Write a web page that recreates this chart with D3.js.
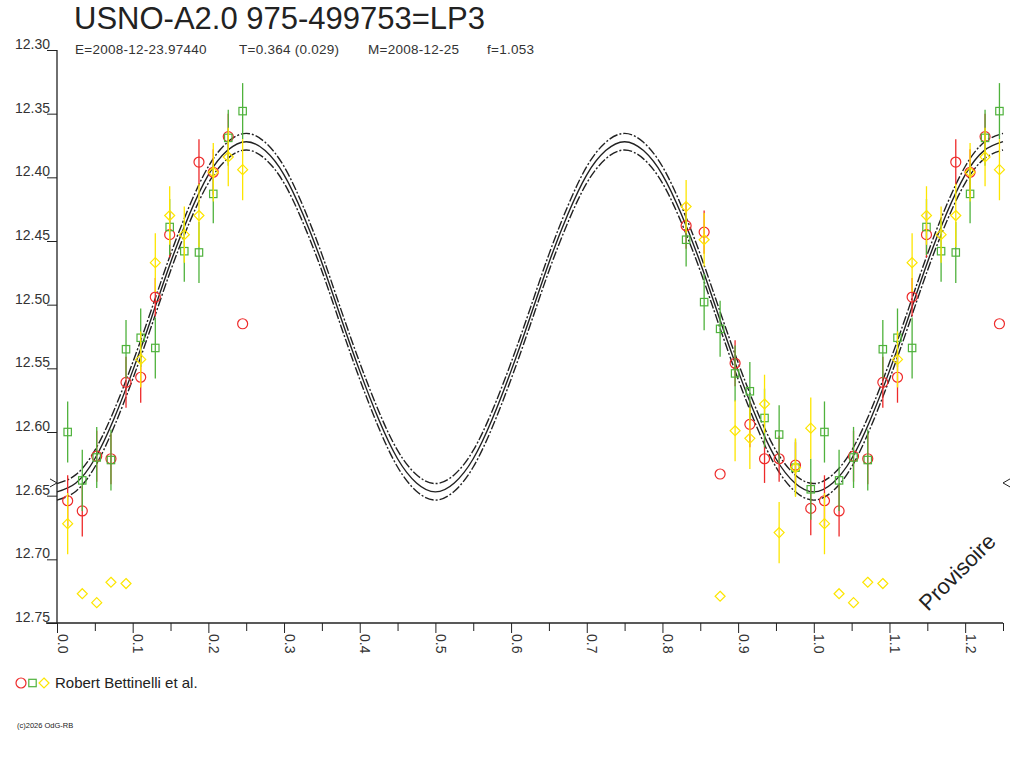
<!DOCTYPE html>
<html>
<head>
<meta charset="utf-8">
<script src="https://cdn.jsdelivr.net/npm/d3@7"></script>
<style>
body { margin: 0; background: #fff; }
svg { display: block; font-family: "Liberation Sans", Arial, sans-serif; }
</style>
</head>
<body>
<svg id="chart" width="1024" height="768"></svg>
<script>
'use strict';

// Observation phases (one column = one epoch, three measures each)
var obsPhase = [0.0141, 0.0334, 0.0525, 0.0713, 0.0912, 0.1106, 0.1299, 0.1489, 0.1682, 0.1876, 0.2065, 0.2263, 0.2453,
	0.8313, 0.8551, 0.8762, 0.8960, 0.9155, 0.9349, 0.9542, 0.9758, 0.9960];

var redMag = [12.654, 12.662, 12.619, 12.621, 12.561, 12.557, 12.494, 12.445, null, 12.388, 12.396, 12.368, 12.515,
	12.438, 12.443, 12.633, 12.546, 12.594, 12.621, 12.621, 12.626, 12.660];
var redErr = [0.020, 0.020, 0.020, 0.020, 0.020, 0.020, 0.015, 0.018, 0, 0.018, 0.018, 0.018, 0,
	0.018, 0.017, 0, 0.018, 0.018, 0.019, 0.018, 0.018, 0.021];

var greenMag = [12.600, 12.638, 12.620, 12.622, 12.535, 12.526, 12.534, 12.439, 12.458, 12.459, 12.413, 12.369, 12.348,
	12.449, 12.498, 12.519, 12.554, 12.568, 12.589, 12.602, 12.628, 12.645];
var greenErr = [0.024, 0.024, 0.024, 0.024, 0.023, 0.023, 0.024, 0.022, 0.024, 0.024, 0.023, 0.022, 0.022,
	0.021, 0.022, 0.022, 0.022, 0.023, 0.023, 0.023, 0.022, 0.024];

var yellowMag = [12.672, 12.727, 12.734, 12.718, 12.719, 12.543, 12.467, 12.430, 12.445, 12.430, 12.396, 12.384, 12.394,
	12.423, 12.449, 12.729, 12.599, 12.605, 12.578, 12.679, 12.628, 12.597];
var yellowErr = [0.024, 0, 0, 0, 0, 0.022, 0.023, 0.023, 0.022, 0.025, 0.023, 0.023, 0.024,
	0.021, 0.021, 0, 0.024, 0.024, 0.023, 0.024, 0.023, 0.024];

// Fitted light curve, every 0.025 in phase
var curvePhase = [0, 0.025, 0.05, 0.075, 0.1, 0.125, 0.15, 0.175, 0.2, 0.225, 0.25, 0.275, 0.3, 0.325, 0.35, 0.375,
	0.4, 0.425, 0.45, 0.475, 0.5, 0.525, 0.55, 0.575, 0.6, 0.625, 0.65, 0.675, 0.7, 0.725, 0.75, 0.775, 0.8, 0.825,
	0.85, 0.875, 0.9, 0.925, 0.95, 0.975, 1.0, 1.025, 1.05, 1.075, 1.1, 1.125, 1.15, 1.175, 1.2, 1.225, 1.25];
var curveMag = [12.647, 12.640, 12.621, 12.590, 12.552, 12.510, 12.467, 12.429, 12.398, 12.379, 12.372, 12.379, 12.398,
	12.429, 12.467, 12.510, 12.552, 12.590, 12.621, 12.640, 12.647, 12.640, 12.621, 12.590, 12.552, 12.510, 12.467,
	12.429, 12.398, 12.379, 12.372, 12.379, 12.398, 12.429, 12.467, 12.510, 12.552, 12.590, 12.621, 12.640, 12.647,
	12.640, 12.621, 12.590, 12.552, 12.510, 12.467, 12.429, 12.398, 12.379, 12.372];
var curveBand = 0.0065;

var yTicks = [12.30, 12.35, 12.40, 12.45, 12.50, 12.55, 12.60, 12.65, 12.70, 12.75];
var xTicks = [0, 0.1, 0.2, 0.3, 0.4, 0.5, 0.6, 0.7, 0.8, 0.9, 1.0, 1.1, 1.2];
var xMinorTicks = [0.05, 0.15, 0.25, 0.35, 0.45, 0.55, 0.65, 0.75, 0.85, 0.95, 1.05, 1.15, 1.25];
var meanMag = 12.64;

var titleText = 'USNO-A2.0 975-499753=LP3';
var subTexts = ['E=2008-12-23.97440', 'T=0.364 (0.029)', 'M=2008-12-25', 'f=1.053'];
var legendText = 'Robert Bettinelli et al.';

var RED = '#ee2a2a', GREEN = '#4fb23c', YELLOW = '#fde600', INK = '#222';

var svg = d3.select('#chart');
var x_scale = d3.scaleLinear().domain([0, 1.25]).range([57, 1003]);
var y_scale = d3.scaleLinear().domain([12.30, 12.75]).range([50, 623]);

// Title and parameters
svg.append('text').attr('x', 74).attr('y', 29)
	.attr('font-size', 31).attr('fill', INK).text(titleText);
var subX = [75, 239, 368, 487];
svg.selectAll('text.sub').data(subTexts).enter().append('text')
	.attr('class', 'sub')
	.attr('x', function(d, i) { return subX[i]; })
	.attr('y', 54)
	.attr('font-size', 13.5).attr('letter-spacing', 0.25).attr('fill', '#333')
	.text(function(d) { return d; });

// Axes
var yAxis = d3.axisLeft(y_scale).tickValues(yTicks).tickSize(10).tickFormat(d3.format('.2f'));
var gy = svg.append('g').attr('transform', 'translate(57,0)').call(yAxis);
gy.select('.domain').remove();
gy.selectAll('line').attr('stroke', INK);
gy.selectAll('text').attr('x', -7).attr('dy', -1.5)
	.attr('font-size', 14).attr('fill', '#333').attr('font-family', null);

var xAxis = d3.axisBottom(x_scale).tickValues(xTicks).tickSize(10).tickFormat(d3.format('.1f'));
var gx = svg.append('g').attr('transform', 'translate(0,623)').call(xAxis);
gx.select('.domain').remove();
gx.selectAll('line').attr('stroke', INK);
gx.selectAll('text')
	.attr('transform', 'rotate(90)')
	.attr('x', 11).attr('y', 0).attr('dy', 0)
	.attr('text-anchor', 'start')
	.attr('font-size', 14).attr('fill', '#333').attr('font-family', null);

var gxm = svg.append('g').attr('transform', 'translate(0,623)')
	.call(d3.axisBottom(x_scale).tickValues(xMinorTicks).tickSize(8).tickFormat(''));
gxm.select('.domain').remove();
gxm.selectAll('line').attr('stroke', INK);

svg.append('line').attr('x1', x_scale(0)).attr('x2', x_scale(0))
	.attr('y1', y_scale(12.30)).attr('y2', y_scale(12.75)).attr('stroke', INK).attr('stroke-width', 1.3);
svg.append('line').attr('x1', x_scale(0) - 11).attr('x2', x_scale(1.25))
	.attr('y1', y_scale(12.75)).attr('y2', y_scale(12.75)).attr('stroke', INK).attr('stroke-width', 1.3);

// Mean level markers on both sides
var my = y_scale(meanMag);
svg.append('path').attr('d', 'M' + (x_scale(0) - 7) + ',' + (my - 4) + 'L' + x_scale(0) + ',' + my + 'L' + (x_scale(0) - 7) + ',' + (my + 4))
	.attr('fill', 'none').attr('stroke', INK);
svg.append('path').attr('d', 'M' + (x_scale(1.25) + 7) + ',' + (my - 4) + 'L' + x_scale(1.25) + ',' + my + 'L' + (x_scale(1.25) + 7) + ',' + (my + 4))
	.attr('fill', 'none').attr('stroke', INK);

// Light curve with its band
var curve_data = curvePhase.map(function(p, i) { return { p: p, m: curveMag[i] }; });
function curveLine(offset) {
	return d3.line()
		.x(function(d) { return x_scale(d.p); })
		.y(function(d) { return y_scale(d.m + offset); })
		.curve(d3.curveNatural);
}
[-curveBand, curveBand].forEach(function(off) {
	svg.append('path').datum(curve_data).attr('d', curveLine(off))
		.attr('fill', 'none').attr('stroke', INK).attr('stroke-width', 1.4)
		.attr('stroke-dasharray', '9,2,2,2');
});
svg.append('path').datum(curve_data).attr('d', curveLine(0))
	.attr('fill', 'none').attr('stroke', INK).attr('stroke-width', 1.4);

// Observations, folded: phases below 0.25 are drawn again one cycle later
function buildPoints(mags, errs) {
	var pts = [];
	obsPhase.forEach(function(p, i) {
		if (mags[i] === null) { return; }
		pts.push({ p: p, m: mags[i], e: errs[i] });
		if (p + 1 <= 1.25) { pts.push({ p: p + 1, m: mags[i], e: errs[i] }); }
	});
	return pts;
}

var series = [
	{ pts: buildPoints(redMag, redErr), color: RED, shape: 'circle' },
	{ pts: buildPoints(greenMag, greenErr), color: GREEN, shape: 'square' },
	{ pts: buildPoints(yellowMag, yellowErr), color: YELLOW, shape: 'diamond' }
];

function drawMarker(g, shape, color, cx, cy) {
	if (shape === 'circle') {
		g.append('circle').attr('cx', cx).attr('cy', cy).attr('r', 5)
			.attr('fill', 'none').attr('stroke', color).attr('stroke-width', 1.2);
	} else if (shape === 'square') {
		g.append('rect').attr('x', cx - 3.7).attr('y', cy - 3.7).attr('width', 7.4).attr('height', 7.4)
			.attr('fill', 'none').attr('stroke', color).attr('stroke-width', 1.2);
	} else {
		g.append('path').attr('d', 'M' + cx + ',' + (cy - 5) + 'L' + (cx + 5) + ',' + cy + 'L' + cx + ',' + (cy + 5) + 'L' + (cx - 5) + ',' + cy + 'Z')
			.attr('fill', 'none').attr('stroke', color).attr('stroke-width', 1.2);
	}
}

series.forEach(function(s) {
	var g = svg.append('g');
	g.selectAll('line.ebar')
		.data(s.pts.filter(function(d) { return d.e > 0; }))
		.enter().append('line')
		.attr('class', 'ebar')
		.attr('x1', function(d) { return x_scale(d.p); })
		.attr('x2', function(d) { return x_scale(d.p); })
		.attr('y1', function(d) { return y_scale(d.m - d.e); })
		.attr('y2', function(d) { return y_scale(d.m + d.e); })
		.attr('stroke', s.color).attr('stroke-width', 1.3);
	s.pts.forEach(function(d) {
		drawMarker(g, s.shape, s.color, x_scale(d.p), y_scale(d.m));
	});
});

// Watermark
svg.append('text').attr('transform', 'translate(928,612) rotate(-45)')
	.attr('font-size', 22).attr('fill', INK).text('Provisoire');

// Legend
var lg = svg.append('g');
drawMarker(lg, 'circle', RED, 21, 683);
drawMarker(lg, 'square', GREEN, 32.5, 683);
drawMarker(lg, 'diamond', YELLOW, 44, 683);
svg.append('text').attr('x', 55).attr('y', 688)
	.attr('font-size', 15).attr('fill', INK).text(legendText);

svg.append('text').attr('x', 17).attr('y', 728)
	.attr('font-size', 7.5).attr('fill', INK).text('(c)2026 OdG-RB');
</script>
</body>
</html>
